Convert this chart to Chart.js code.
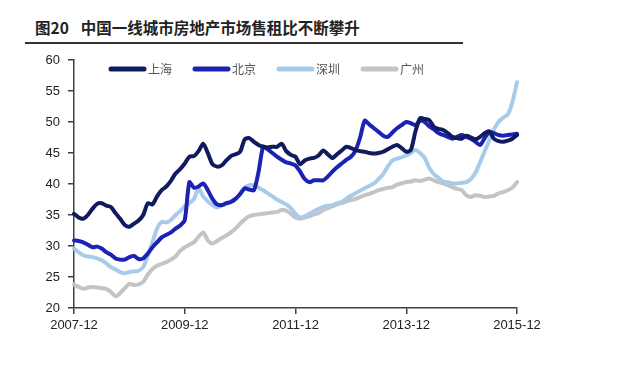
<!DOCTYPE html>
<html>
<head>
<meta charset="utf-8">
<script src="https://cdn.jsdelivr.net/npm/chart.js@4"></script>
<style>
  html, body { margin: 0; padding: 0; background: #fff; }
  body { width: 638px; height: 371px; position: relative; overflow: hidden; }
  #title {
    position: absolute; left: 35px; top: 16px;
    font: bold 15.5px "Noto Sans CJK SC", sans-serif; color: #222; white-space: nowrap;
  }
  #title span { margin-left: 12px; }
  #rule { position: absolute; left: 25px; top: 42px; width: 438px; height: 2px; background: #333; }
  #wrap { position: absolute; left: 0; top: 0; width: 638px; height: 371px; }
</style>
</head>
<body>
<div id="title">图20<span>中国一线城市房地产市场售租比不断攀升</span></div>
<div id="rule"></div>
<div id="wrap"><canvas id="myChart"></canvas></div>
<script>
// monthly, 2007-12 .. 2015-12
const tickLabels = ['2007-12', '2009-12', '2011-12', '2013-12', '2015-12'];
const seriesNames = ['上海', '北京', '深圳', '广州'];
const seriesColors = ['#101a5e', '#1c22b4', '#a9cbea', '#c4c4c4'];

const shanghai = [35.2, 34.6, 34.4, 35.0, 36.0, 36.8, 36.9, 36.5, 36.3, 35.3, 34.4, 33.4, 33.1, 33.6, 34.1, 35.0,
  36.9, 36.7, 38.0, 39.0, 39.6, 40.5, 41.7, 42.4, 43.3, 44.4, 44.5, 45.3, 46.5, 45.0, 43.2, 42.8,
  43.0, 43.8, 44.5, 44.8, 45.2, 47.2, 47.4, 46.8, 46.3, 46.0, 45.9, 46.0, 46.0, 46.5, 45.3, 44.7,
  44.4, 43.2, 43.8, 44.1, 44.2, 44.6, 45.4, 44.8, 44.2, 44.8, 45.4, 46.0, 45.8, 45.5, 45.3, 45.2,
  45.0, 44.9, 45.0, 45.2, 45.6, 46.0, 46.3, 45.8, 45.2, 45.5, 48.5, 50.6, 50.5, 50.3, 49.2, 48.9,
  48.7, 48.2, 47.6, 47.4, 47.3, 47.8, 47.5, 47.2, 47.6, 48.2, 48.5, 47.3, 46.9, 46.8, 47.0, 47.3, 47.9];
const beijing = [30.9, 30.8, 30.6, 30.2, 29.8, 29.9, 29.6, 29.0, 28.6, 28.0, 27.8, 27.8, 28.2, 28.4, 27.9, 28.0,
  28.8, 29.8, 30.6, 31.4, 31.8, 32.2, 32.8, 33.3, 34.2, 40.3, 39.4, 39.6, 40.1, 39.0, 37.6, 36.7,
  36.6, 36.9, 37.1, 37.6, 38.4, 39.3, 39.1, 39.0, 42.0, 46.0, 45.6, 45.0, 44.4, 43.9, 43.5, 43.3,
  43.0, 42.0, 40.8, 40.3, 40.6, 40.6, 40.6, 41.2, 42.0, 42.7, 43.3, 43.9, 44.4, 45.4, 47.5, 50.2,
  49.6, 49.0, 48.4, 47.8, 47.6, 48.3, 49.0, 49.5, 50.0, 49.8, 49.5, 50.2, 50.0, 49.3, 48.8, 48.2,
  47.9, 47.6, 47.3, 47.6, 47.9, 47.6, 47.3, 46.8, 46.3, 47.4, 48.4, 48.2, 47.9, 47.8, 47.9, 48.0, 48.1];
const shenzhen = [29.6, 29.0, 28.5, 28.3, 28.2, 28.0, 27.7, 27.2, 26.6, 26.2, 25.8, 25.6, 25.8, 25.9, 26.0, 26.6,
  28.5, 30.6, 32.8, 33.9, 33.8, 34.2, 35.0, 35.6, 36.4, 36.9, 37.6, 39.3, 38.0, 37.2, 36.6, 36.2,
  36.5, 36.8, 37.2, 37.6, 38.3, 39.4, 39.8, 39.8, 39.4, 39.0, 38.5, 38.0, 37.5, 37.1, 36.7, 36.1,
  35.2, 34.6, 34.8, 35.2, 35.6, 36.0, 36.3, 36.5, 36.6, 36.9, 37.1, 37.6, 38.1, 38.5, 38.9, 39.3,
  39.7, 40.1, 40.8, 41.6, 42.8, 43.8, 44.1, 44.3, 44.6, 45.0, 45.5, 45.0, 44.2, 42.6, 41.6, 41.0,
  40.4, 40.3, 40.1, 40.1, 40.2, 40.3, 40.8, 41.8, 43.5, 45.3, 47.0, 48.8, 50.0, 50.7, 51.2, 53.2, 56.4];
const guangzhou = [23.8, 23.4, 23.1, 23.3, 23.4, 23.3, 23.2, 23.1, 22.6, 21.9, 22.4, 23.2, 23.9, 23.7, 23.8, 24.2,
  25.4, 26.3, 26.8, 27.1, 27.4, 27.8, 28.3, 29.2, 29.8, 30.2, 30.6, 31.5, 32.2, 30.9, 30.4, 30.8,
  31.3, 31.7, 32.2, 32.8, 33.6, 34.3, 34.8, 35.0, 35.1, 35.2, 35.3, 35.4, 35.5, 35.8, 35.7, 35.2,
  34.6, 34.4, 34.6, 34.8, 35.1, 35.3, 35.8, 36.1, 36.4, 36.7, 36.9, 37.2, 37.4, 37.6, 37.9, 38.2,
  38.4, 38.7, 39.0, 39.2, 39.4, 39.5, 39.9, 40.1, 40.3, 40.4, 40.6, 40.5, 40.7, 40.9, 40.6, 40.3,
  40.1, 39.8, 39.5, 39.2, 39.0, 38.2, 37.9, 38.2, 38.1, 37.9, 38.0, 38.1, 38.5, 38.7, 39.0, 39.4, 40.3];

const months = [];
for (let y = 2007; y <= 2015; y++) {
  for (let m = 1; m <= 12; m++) {
    if (y === 2007 && m < 12) continue;
    months.push(y + '-' + String(m).padStart(2, '0'));
  }
}

const allSeries = [shanghai, beijing, shenzhen, guangzhou];

// legend drawn inside the plot area, near the top
const inlineLegend = {
  id: 'inlineLegend',
  afterDraw(chart) {
    const { ctx, chartArea } = chart;
    ctx.save();
    ctx.font = '12px "Noto Sans CJK SC"';
    ctx.textBaseline = 'middle';
    ctx.lineCap = 'round';
    chart.data.datasets.forEach((ds, k) => {
      const x = chartArea.left + 37 + k * 84;
      const y = chartArea.top + 9;
      ctx.strokeStyle = ds.borderColor;
      ctx.lineWidth = 5;
      ctx.beginPath();
      ctx.moveTo(x, y);
      ctx.lineTo(x + 33, y);
      ctx.stroke();
      ctx.fillStyle = '#555';
      ctx.fillText(ds.label, x + 37, y);
    });
    ctx.restore();
  }
};

const ctx = document.getElementById('myChart').getContext('2d');
new Chart(ctx, {
  type: 'line',
  data: {
    labels: months,
    datasets: allSeries.map((vals, k) => ({
      label: seriesNames[k],
      data: vals,
      borderColor: seriesColors[k],
      backgroundColor: seriesColors[k],
      borderWidth: 4,
      pointRadius: 0,
      tension: 0.25,
      borderJoinStyle: 'round',
      borderCapStyle: 'round',
      fill: false
    }))
  },
  options: {
    responsive: true,
    maintainAspectRatio: false,
    animation: false,
    layout: { padding: { left: 0, right: 121, top: 60, bottom: 33 } },
    plugins: {
      legend: { display: false },
      title: { display: false },
      tooltip: { enabled: false }
    },
    scales: {
      x: {
        offset: false,
        grid: { display: true, drawOnChartArea: false, color: '#404040', tickLength: 6, lineWidth: 1.5 },
        border: { display: true, color: '#404040', width: 1.5 },
        ticks: {
          autoSkip: false, maxRotation: 0, padding: 4,
          color: '#222', font: { family: 'Liberation Sans', size: 13 },
          callback: function (value) {
            const lab = this.getLabelForValue(value);
            return tickLabels.includes(lab) ? lab : null;
          }
        },
        afterFit: (scale) => { scale.height = 30; }
      },
      y: {
        min: 20, max: 60,
        grid: { display: true, drawOnChartArea: false, color: '#404040', tickLength: 6, lineWidth: 1.5 },
        border: { display: true, color: '#404040', width: 1.5 },
        ticks: { stepSize: 5, padding: 8, color: '#222', font: { family: 'Liberation Sans', size: 13 } },
        afterFit: (scale) => { scale.width = 74; }
      }
    }
  },
  plugins: [inlineLegend]
});
</script>
</body>
</html>
